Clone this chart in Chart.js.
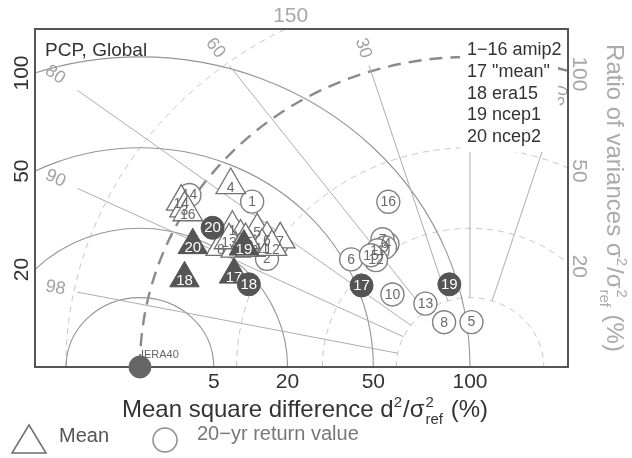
<!DOCTYPE html>
<html>
<head>
<meta charset="utf-8">
<script src="https://cdn.jsdelivr.net/npm/chart.js@4.4.1/dist/chart.umd.min.js"></script>
<style>
  body { margin: 0; background: #fff; }
  #wrap { width: 632px; height: 458px; position: relative; }
</style>
</head>
<body>
<div id="wrap"><canvas id="taylor"></canvas></div>
<script>
// Taylor diagram for PCP, Global (normalised so that sigma_ref = 1)
// every point is given as mean square difference d2/sref2 (%) and ratio of variances s2/sref2 (%)

// amip2 models, mean field (open triangles)
const meanTags = ['4', '14', '3', '16', '1', '2', '5', '6', '7', '8', '9', '10', '11', '12', '13', '15'];
const meanMsd  = [42, 30, 28, 27, 28, 27, 32, 32, 35, 21, 23, 26, 29, 31, 24, 27];
const meanVar  = [87, 105, 101, 98, 72, 66, 61, 55, 50, 72, 65, 59, 55, 51, 70, 63];

// amip2 models, 20-yr return value (open circles)
const rvTags = ['1', '2', '3', '4', '5', '6', '7', '8', '9', '10', '11', '12', '13', '14', '15', '16'];
const rvMsd  = [40, 27, 33, 72, 103, 53, 71, 87, 70, 64, 66, 63, 79, 33, 62, 85];
const rvVar  = [72, 50, 50, 22, 2.1, 25, 24, 2.7, 21.5, 11, 22, 20, 6, 103, 22, 34.5];

// 17 "mean", 18 era15, 19 ncep1, 20 ncep2
const refTags = ['17', '18', '19', '20'];
const refMeanMsd = [17, 10, 25, 18];
const refMeanVar = [60, 83, 62, 86];
const refRvMsd = [52, 18, 95, 25];
const refRvVar = [17.7, 52, 7.5, 81];

// grid values
const msdTicks = [5, 20, 50, 100];
const varTicks = [5, 20, 50, 100, 150];
const corrTicks = [0.98, 0.9, 0.8, 0.6, 0.3, 0, -0.3];
const legendLines = ['1\u221216 amip2', '17 "mean"', '18 era15', '19 ncep1', '20 ncep2'];

const FONT = '"Liberation Sans", Arial, sans-serif';

function toXY(msd, vr) {
    const s2 = vr / 100, d2 = msd / 100;
    const x = (1 + s2 - d2) / 2;
    return { x: x, y: Math.sqrt(Math.max(0, s2 - x * x)) };
}
const pts = (m, v) => m.map((d, i) => toXY(d, v[i]));

// draws text with super/subscripts, pieces laid out from left to right
function drawRich(ctx, pieces, x, y, size) {
    const big = size + 'px ' + FONT, small = Math.round(size * 0.62) + 'px ' + FONT;
    const widthOf = p => {
        if (p.stack) { ctx.font = small; return Math.max(...p.stack.map(t => ctx.measureText(t).width)) + 2; }
        ctx.font = p.sup ? small : big;
        return ctx.measureText(p.t).width + (p.sup ? 1 : 0);
    };
    const total = pieces.reduce((s, p) => s + widthOf(p), 0);
    let cx = x - total / 2;
    ctx.textAlign = 'left';
    ctx.textBaseline = 'alphabetic';
    pieces.forEach(p => {
        const w = widthOf(p);
        if (p.stack) {
            ctx.font = small;
            ctx.fillText(p.stack[0], cx + 1, y - size * 0.42);
            ctx.fillText(p.stack[1], cx + 1, y + size * 0.28);
        } else if (p.sup) {
            ctx.font = small;
            ctx.fillText(p.t, cx, y - size * 0.42);
        } else {
            ctx.font = big;
            ctx.fillText(p.t, cx, y);
        }
        cx += w;
    });
}

const taylorGrid = {
    id: 'taylorGrid',
    beforeDatasetsDraw(chart) {
        const { ctx, chartArea: ca, scales } = chart;
        const X = v => scales.x.getPixelForValue(v), Y = v => scales.y.getPixelForValue(v);
        const sx = Math.abs(X(1) - X(0)), sy = Math.abs(Y(1) - Y(0));
        ctx.save();
        ctx.beginPath();
        ctx.rect(ca.left, ca.top, ca.right - ca.left, ca.bottom - ca.top);
        ctx.clip();

        // ratio of variances, dashed arcs round the origin
        varTicks.forEach(v => {
            const r = Math.sqrt(v / 100);
            const thick = v === 100;
            ctx.beginPath();
            ctx.setLineDash(thick ? [13, 8] : [6, 5]);
            ctx.lineWidth = thick ? 2.4 : 1;
            ctx.strokeStyle = thick ? '#8a8a8a' : '#c6c6c6';
            ctx.ellipse(X(0), Y(0), r * sx, r * sy, 0, Math.PI, 2 * Math.PI);
            ctx.stroke();
        });
        ctx.setLineDash([]);

        // mean square difference, solid circles round the reference
        msdTicks.forEach(m => {
            const r = Math.sqrt(m / 100);
            ctx.beginPath();
            ctx.lineWidth = 1.1;
            ctx.strokeStyle = '#959595';
            ctx.ellipse(X(1), Y(0), r * sx, r * sy, 0, Math.PI, 2 * Math.PI);
            ctx.stroke();
        });

        // correlation lines with their labels
        const r0 = Math.sqrt(varTicks[0] / 100);
        corrTicks.forEach(c => {
            const s = Math.sqrt(1 - c * c);
            const at = t => [X(t * c), Y(t * s)];
            const within = (t, l, tp, rt) => {
                const [a, b] = at(t);
                return a >= ca.left + l && a <= ca.right - rt && b >= ca.top + tp;
            };
            let t1 = r0;
            while (t1 < 3 && within(t1 + 0.002, 42, 36, 20)) t1 += 0.002;
            ctx.beginPath();
            ctx.lineWidth = 1;
            ctx.strokeStyle = '#adadad';
            ctx.moveTo(...at(r0));
            ctx.lineTo(...at(t1));
            ctx.stroke();

            let t2 = r0;
            while (t2 < 3 && within(t2 + 0.002, 20, 19, 7)) t2 += 0.002;
            const [lx, ly] = at(t2);
            const [ox, oy] = at(0);
            let rot = Math.atan2(oy - ly, ox - lx);
            if (rot > Math.PI / 2 + 0.01) rot -= Math.PI;
            ctx.save();
            ctx.translate(lx, ly);
            ctx.rotate(rot);
            ctx.font = '18px ' + FONT;
            ctx.fillStyle = '#a2a2a2';
            ctx.textAlign = 'center';
            ctx.textBaseline = 'middle';
            ctx.fillText(String(Math.round(Math.abs(c) * 100)), 0, 0);
            ctx.restore();
        });

        // legend block, top right
        ctx.fillStyle = '#fff';
        ctx.fillRect(460, 36, 98, 116);
        ctx.fillStyle = '#333';
        ctx.font = '18px ' + FONT;
        ctx.textAlign = 'left';
        ctx.textBaseline = 'middle';
        legendLines.forEach((t, i) => ctx.fillText(t, 467, 50 + i * 21.8));

        ctx.font = '19px ' + FONT;
        ctx.fillText('PCP, Global', 45, 51);
        ctx.restore();

        // frame
        ctx.save();
        ctx.strokeStyle = '#555';
        ctx.lineWidth = 2;
        ctx.strokeRect(ca.left, ca.top, ca.right - ca.left, ca.bottom - ca.top);
        ctx.restore();
    },
    afterDatasetDraw(chart, args) {
        const ds = chart.data.datasets[args.index];
        if (!ds.tags) return;
        const ctx = chart.ctx;
        ctx.save();
        ctx.font = (ds.filled ? '15px ' : '14px ') + FONT;
        ctx.fillStyle = ds.filled ? '#fff' : '#6a6a6a';
        ctx.textAlign = 'center';
        ctx.textBaseline = 'middle';
        args.meta.data.forEach((pt, i) => {
            ctx.fillText(ds.tags[i], pt.x, pt.y + (ds.pointStyle === 'triangle' ? 3 : 0.5));
        });
        ctx.restore();
    },
    afterDraw(chart) {
        const { ctx, chartArea: ca, scales } = chart;
        const X = v => scales.x.getPixelForValue(v), Y = v => scales.y.getPixelForValue(v);
        const xLeft = scales.x.max, xRight = scales.x.min, yTop = scales.y.max;
        ctx.save();
        ctx.textAlign = 'center';
        ctx.textBaseline = 'middle';

        // reference label
        ctx.font = '11px ' + FONT;
        ctx.fillStyle = '#666';
        ctx.textAlign = 'left';
        ctx.fillText('IERA40', X(1) + 1, ca.bottom - 12);
        ctx.textAlign = 'center';

        // bottom and left ticks: where msd circles meet the frame
        ctx.font = '21px ' + FONT;
        ctx.fillStyle = '#333';
        msdTicks.forEach(m => {
            const r = Math.sqrt(m / 100);
            ctx.fillText(String(m), X(1 - r), ca.bottom + 15);
            const dx = xLeft - 1;
            if (r > dx) {
                const yy = Math.sqrt(r * r - dx * dx);
                ctx.save();
                ctx.translate(ca.left - 13, Y(yy));
                ctx.rotate(-Math.PI / 2);
                ctx.fillText(String(m), 0, 0);
                ctx.restore();
            }
        });

        // right and top ticks: where variance arcs meet the frame
        ctx.fillStyle = '#a8a8a8';
        varTicks.forEach(v => {
            const r = Math.sqrt(v / 100);
            if (r <= -xRight) return;
            const yy = Math.sqrt(r * r - xRight * xRight);
            if (yy <= yTop) {
                ctx.save();
                ctx.translate(ca.right + 11, Y(yy) + 3);
                ctx.rotate(Math.PI / 2);
                ctx.fillText(String(v), 0, 0);
                ctx.restore();
            } else {
                const xx = Math.sqrt(r * r - yTop * yTop);
                ctx.fillText(String(v), X(xx) + 5, ca.top - 13);
            }
        });

        // axis titles
        ctx.fillStyle = '#333';
        drawRich(ctx, [{ t: 'Mean square difference d' }, { t: '2', sup: true }, { t: '/' },
            { t: '\u03c3' }, { stack: ['2', 'ref'] }, { t: ' (%)' }], 305, 417, 24);

        ctx.save();
        ctx.translate(607, 198);
        ctx.rotate(Math.PI / 2);
        ctx.fillStyle = '#ababab';
        drawRich(ctx, [{ t: 'Ratio of variances \u03c3' }, { t: '2', sup: true }, { t: '/' },
            { t: '\u03c3' }, { stack: ['2', 'ref'] }, { t: ' (%)' }], 0, 0, 24);
        ctx.restore();

        // marker legend, bottom
        ctx.lineWidth = 1.5;
        ctx.strokeStyle = '#6e6e6e';
        ctx.beginPath();
        ctx.moveTo(29, 425);
        ctx.lineTo(46, 453);
        ctx.lineTo(12, 453);
        ctx.closePath();
        ctx.stroke();
        ctx.strokeStyle = '#8c8c8c';
        ctx.beginPath();
        ctx.arc(165, 440, 12, 0, 2 * Math.PI);
        ctx.stroke();
        ctx.font = '20px ' + FONT;
        ctx.textAlign = 'left';
        ctx.fillStyle = '#555';
        ctx.fillText('Mean', 59, 442);
        ctx.fillStyle = '#777';
        ctx.fillText('20\u2212yr return value', 197, 440);
        ctx.restore();
    }
};

new Chart(document.getElementById('taylor'), {
    type: 'scatter',
    data: {
        datasets: [
            {
                label: 'IERA40', data: [toXY(0, 100)], pointStyle: 'circle', pointRadius: 11,
                backgroundColor: '#666', borderColor: '#666', borderWidth: 1, clip: false
            },
            {
                label: 'ref return value', data: pts(refRvMsd, refRvVar), tags: refTags, filled: true,
                pointStyle: 'circle', pointRadius: 11.5, backgroundColor: '#555', borderColor: '#555', borderWidth: 1, clip: false
            },
            {
                label: 'ref mean', data: pts(refMeanMsd, refMeanVar), tags: refTags, filled: true,
                pointStyle: 'triangle', pointRadius: 17, backgroundColor: '#555', borderColor: '#555', borderWidth: 1, clip: false
            },
            {
                label: 'Mean', data: pts(meanMsd, meanVar), tags: meanTags,
                pointStyle: 'triangle', pointRadius: 17, backgroundColor: '#fff', borderColor: '#707070', borderWidth: 1.3, clip: false
            },
            {
                label: '20-yr return value', data: pts(rvMsd, rvVar), tags: rvTags,
                pointStyle: 'circle', pointRadius: 11.5, backgroundColor: '#fff', borderColor: '#808080', borderWidth: 1.4, clip: false
            }
        ]
    },
    options: {
        responsive: true,
        maintainAspectRatio: false,
        animation: false,
        events: [],
        layout: { padding: { left: 35, right: 64, top: 29, bottom: 91 } },
        plugins: { legend: { display: false }, tooltip: { enabled: false } },
        scales: {
            x: { type: 'linear', reverse: true, min: -0.297, max: 1.318, display: false },
            y: { type: 'linear', min: 0, max: 1.09, display: false }
        }
    },
    plugins: [taylorGrid]
});
</script>
</body>
</html>
